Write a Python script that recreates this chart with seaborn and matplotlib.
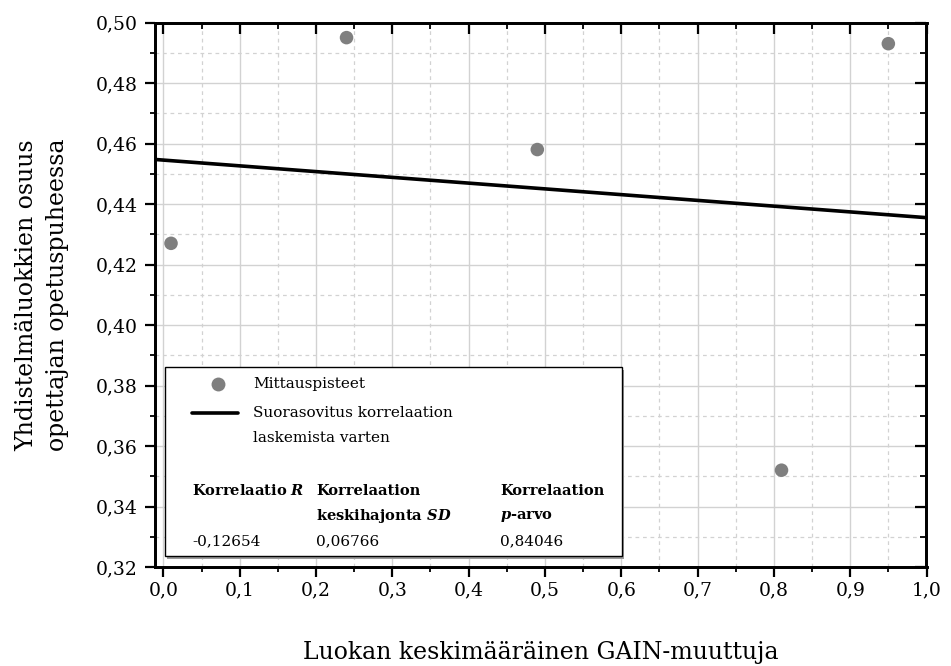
import numpy as np
import pandas as pd
import matplotlib
matplotlib.use("Agg")
import matplotlib.pyplot as plt
import seaborn as sns
from matplotlib.lines import Line2D
from matplotlib.patches import Rectangle
from matplotlib.ticker import MultipleLocator, FuncFormatter

# Data
gain = [0.01, 0.24, 0.49, 0.81, 0.95]
share = [0.427, 0.495, 0.458, 0.352, 0.493]
stat_headers = [["Korrelaatio $\\mathit{R}$", ""],
                ["Korrelaation", "keskihajonta $\\mathit{SD}$"],
                ["Korrelaation", "$\\mathit{p}$-arvo"]]
stat_values = ["-0,12654", "0,06766", "0,84046"]
legend_labels = ["Mittauspisteet", "Suorasovitus korrelaation\nlaskemista varten"]
xlabel = "Luokan keskimääräinen GAIN-muuttuja"
ylabel = "Yhdistelmäluokkien osuus\nopettajan opetuspuheessa"

df = pd.DataFrame({"gain": gain, "share": share})

sns.set_theme(style="white")
FONT = ["DejaVu Serif", "Liberation Serif"]
plt.rcParams["font.family"] = FONT
plt.rcParams["text.color"] = "black"
plt.rcParams["axes.labelcolor"] = "black"
plt.rcParams["xtick.color"] = "black"
plt.rcParams["ytick.color"] = "black"
plt.rcParams["mathtext.fontset"] = "custom"
plt.rcParams["mathtext.it"] = "DejaVu Serif:italic:bold"
plt.rcParams["mathtext.rm"] = "DejaVu Serif:bold"

XL = (-0.011, 1.0)
YL = (0.32, 0.50)

fig = plt.figure(figsize=(9.51, 6.66), dpi=100)
L, R, T, B = 155, 926.5, 22.5, 567
ax = fig.add_axes([L / 951, 1 - B / 666, (R - L) / 951, (B - T) / 666])

ax.set_xlim(*XL)
ax.set_ylim(*YL)

pt_color = "#7f7f7f"
sns.regplot(data=df, x="gain", y="share", ax=ax, ci=None, truncate=False,
            scatter_kws=dict(s=95, color=pt_color, edgecolor="none", alpha=1, zorder=4),
            line_kws=dict(color="black", lw=2.6, zorder=3))
ax.set_xlim(*XL)
ax.set_ylim(*YL)

# grid
ax.xaxis.set_major_locator(MultipleLocator(0.1))
ax.xaxis.set_minor_locator(MultipleLocator(0.05))
ax.yaxis.set_major_locator(MultipleLocator(0.02))
ax.yaxis.set_minor_locator(MultipleLocator(0.01))
ax.grid(which="major", color="#d2d2d2", lw=1.0, ls="-", zorder=0)
ax.grid(which="minor", color="#d2d2d2", lw=0.9, ls=(0, (3, 3)))
ax.set_axisbelow(True)

fmt_x = FuncFormatter(lambda v, p: f"{v:.1f}".replace(".", ","))
fmt_y = FuncFormatter(lambda v, p: f"{v:.2f}".replace(".", ","))
ax.xaxis.set_major_formatter(fmt_x)
ax.yaxis.set_major_formatter(fmt_y)

for s in ax.spines.values():
    s.set_color("black")
    s.set_linewidth(1.8)

ax.tick_params(axis="both", which="major", direction="out", length=7, width=1.6,
               color="black", labelsize=13.5, labelcolor="black")
ax.tick_params(axis="x", which="major", pad=3)
ax.tick_params(axis="y", which="major", pad=5.5)
ax.tick_params(axis="both", which="minor", direction="out", length=3.5, width=1.3, color="black")
ax.tick_params(top=False, right=False, which="both")

# inward ticks on top and right
axt = ax.twiny()
axt.set_xlim(*XL)
axt.xaxis.set_major_locator(MultipleLocator(0.1))
axt.xaxis.set_minor_locator(MultipleLocator(0.05))
axt.tick_params(axis="x", which="major", direction="in", length=8, width=1.6,
                top=True, bottom=False, labeltop=False, labelbottom=False, color="black")
axt.tick_params(axis="x", which="minor", direction="in", length=4.5, width=1.3,
                top=True, bottom=False, color="black")
axt.tick_params(axis="y", left=False, right=False, labelleft=False, labelright=False)
axr = ax.twinx()
axr.set_ylim(*YL)
axr.yaxis.set_major_locator(MultipleLocator(0.02))
axr.yaxis.set_minor_locator(MultipleLocator(0.01))
axr.tick_params(axis="y", which="major", direction="in", length=8, width=1.6,
                right=True, left=False, labelright=False, labelleft=False, color="black")
axr.tick_params(axis="y", which="minor", direction="in", length=4.5, width=1.3,
                right=True, left=False, color="black")
axr.tick_params(axis="x", top=False, bottom=False, labeltop=False, labelbottom=False)
for a in (axt, axr):
    a.grid(False)
    a.patch.set_visible(False)
    for s in a.spines.values():
        s.set_color("black")
        s.set_linewidth(1.8)

ax.set_xlabel(xlabel, fontsize=17, labelpad=30, color="black")
ax.set_ylabel(ylabel, fontsize=17, labelpad=19, linespacing=1.45, color="black")

# Legend / stats box
def px(xp):
    return (xp - L) / (R - L)

def py(yp):
    return (B - yp) / (B - T)

bx0, by0 = px(165), py(556)
bw, bh = px(622) - px(165), py(367) - py(556)
shadow = Rectangle((bx0 + 0.003, by0 - 0.005), bw, bh, transform=ax.transAxes,
                   facecolor="#9a9a9a", edgecolor="none", zorder=5)
box = Rectangle((bx0, by0), bw, bh, transform=ax.transAxes,
                facecolor="white", edgecolor="black", lw=1.0, zorder=6)
ax.add_patch(shadow)
ax.add_patch(box)

fs = 11
ax.add_line(Line2D([px(218)], [py(384)], marker="o", ms=10, color=pt_color, mec="none",
                   transform=ax.transAxes, zorder=7))
ax.add_line(Line2D([px(192), px(238)], [py(413), py(413)], color="black", lw=2.6,
                   transform=ax.transAxes, zorder=7))
ax.text(px(253), py(384), legend_labels[0], transform=ax.transAxes, fontsize=fs,
        va="center", ha="left", zorder=7, color="black")
ax.text(px(253), py(413), legend_labels[1].split("\n")[0], transform=ax.transAxes,
        fontsize=fs, va="center", ha="left", zorder=7, color="black")
ax.text(px(253), py(438), legend_labels[1].split("\n")[1], transform=ax.transAxes,
        fontsize=fs, va="center", ha="left", zorder=7, color="black")

cols = [192, 316, 500]
for cx, hdr, val in zip(cols, stat_headers, stat_values):
    ax.text(px(cx), py(491), hdr[0], transform=ax.transAxes, fontsize=fs - 0.5,
            fontweight="bold", va="center", ha="left", zorder=7, color="black")
    if hdr[1]:
        ax.text(px(cx), py(516), hdr[1], transform=ax.transAxes, fontsize=fs - 0.5,
                fontweight="bold", va="center", ha="left", zorder=7, color="black")
    ax.text(px(cx), py(541), val, transform=ax.transAxes, fontsize=fs,
            va="center", ha="left", zorder=7, color="black")

fig.savefig("out.png", dpi=100)
